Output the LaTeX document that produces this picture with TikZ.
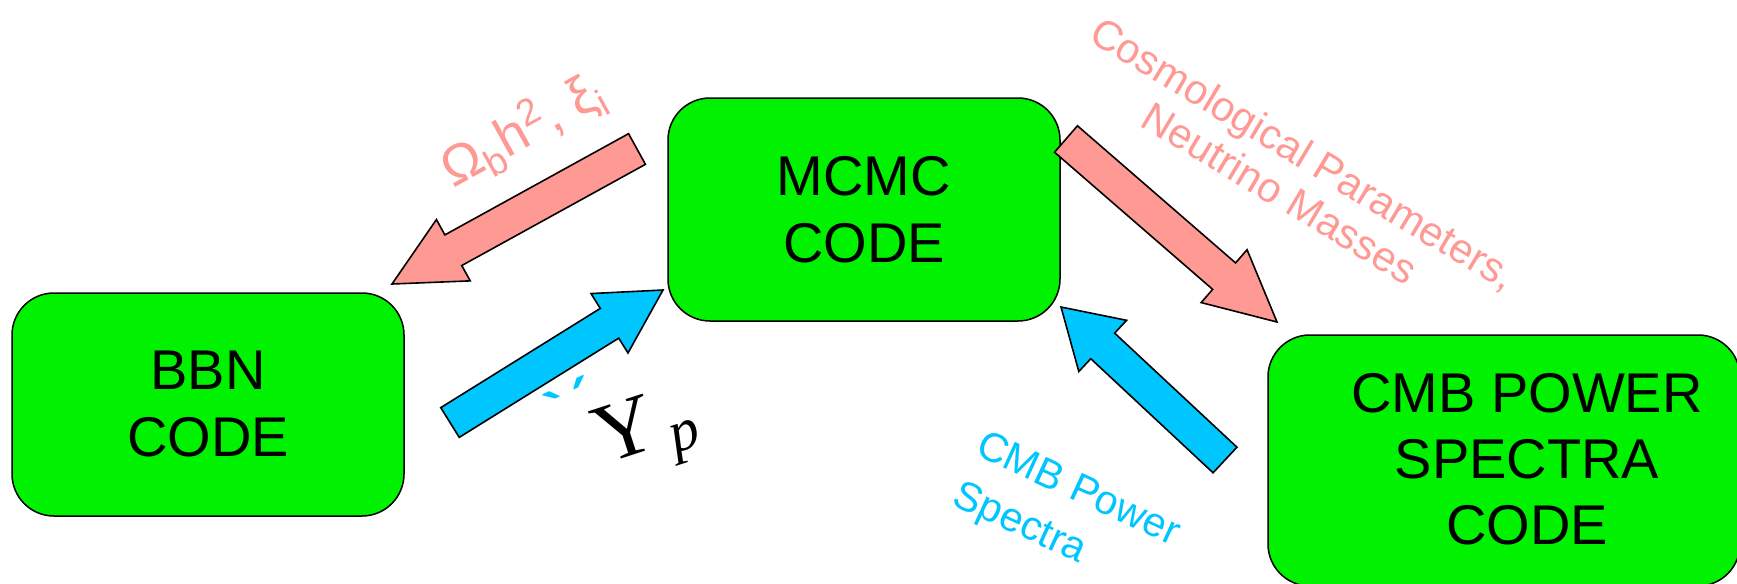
\documentclass[tikz,border=0pt]{standalone}
\usepackage{fontspec}
\setmainfont{Liberation Sans}
\newfontfamily\ypfont{Liberation Serif}
\usetikzlibrary{calc,positioning}
\definecolor{codegreen}{RGB}{0,242,0}
\definecolor{parpink}{RGB}{255,153,148}
\definecolor{specblue}{RGB}{0,198,255}
\tikzstyle{codebox} = [draw, fill=codegreen, rectangle, rounded corners=21pt,
    line width=0.75pt, align=center, inner sep=0pt,
    font=\fontsize{28}{33.5}\selectfont]
\tikzstyle{fatarrow} = [draw, line width=0.8pt, line join=miter]
\tikzstyle{lbl} = [inner sep=0pt, align=center, font=\fontsize{20.8}{23}\selectfont]
% fat outlined arrow: [head length]{tail}{tip}{fill}
\newcommand{\blockarrow}[4][35pt]{%
  \draw [fatarrow, fill=#4] let \p1=($(#3)-(#2)$), \n1={veclen(\x1,\y1)},
      \n2={atan2(\y1,\x1)} in [shift={(#2)}, rotate=\n2]
    (0pt,-8.75pt) -- ({\n1-#1},-8.75pt) -- ({\n1-#1},-17.5pt) -- (\n1,0pt)
    -- ({\n1-#1},17.5pt) -- ({\n1-#1},8.75pt) -- (0pt,8.75pt) -- cycle;}

\begin{document}
\begin{tikzpicture}[x=0.5pt, y=-0.5pt]
	  \useasboundingbox (0,0) rectangle (1737,584);
	  \node [codebox, minimum width=196pt, minimum height=111.5pt] (bbn) at (208,404.5) {BBN\\CODE};
	  \node [codebox, minimum width=196pt, minimum height=111.5pt] (mcmc) at (864,209.5) {MCMC\\CODE};
	  \node [codebox, minimum width=236pt, minimum height=125.5pt] (cmb) at (1504,460.5) {};
	  \node [inner sep=0pt, align=center, font=\fontsize{28}{33}\selectfont] (cmbtext) at (1527,459) {CMB POWER\\SPECTRA\\CODE};
	  % arrow ends
	  \coordinate (obh-from) at (637,149);
	  \coordinate (obh-to) at (392,284);
	  \coordinate (yp-from) at (450,422.5);
	  \coordinate (yp-to) at (663,290);
	  \coordinate (cosmo-from) at (1066,139);
	  \coordinate (cosmo-to) at (1277,322);
	  \coordinate (cls-from) at (1225,460);
	  \coordinate (cls-to) at (1061,307);
	  \blockarrow{obh-from}{obh-to}{parpink}
	  \blockarrow[31.5pt]{yp-from}{yp-to}{specblue}
	  \blockarrow{cosmo-from}{cosmo-to}{parpink}
	  \blockarrow[28.5pt]{cls-from}{cls-to}{specblue}
	  % labels
	  \node [lbl, text=parpink, rotate=29, font=\fontsize{27}{30}\selectfont] (obh) at (523,131)
	    {Ω\textsubscript{b}h\textsuperscript{2}, ξ\textsubscript{i}};
	  \node [lbl, text=parpink, rotate=-31] (cosmo) at (1292,173) {Cosmological Parameters,\\Neutrino Masses};
	  \node [lbl, text=specblue, rotate=-24.8, align=left, font=\fontsize{20.5}{27.5}\selectfont] (cls) at (1066,516) {CMB Power\\Spectra};
	  \node [text=specblue, rotate=25, inner sep=0pt, font=\fontsize{30}{30}\bfseries] (ypmarks) at (573,405) {\textasciigrave\,\textasciiacute};
	  \node [rotate=18, inner sep=0pt, font=\fontsize{42}{46}\ypfont] (yp) at (648,434) {Y\hspace{5pt}\textsubscript{\itshape p}};
	\end{tikzpicture}
\end{document}
